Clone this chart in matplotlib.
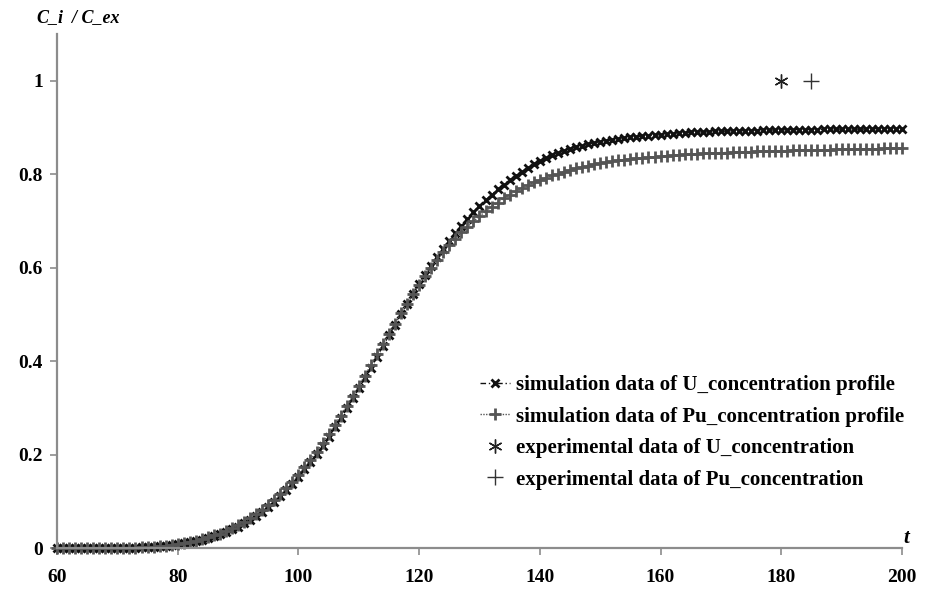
import numpy as np
import matplotlib.pyplot as plt

# time axis of the simulation (one point per unit)
t = np.arange(60, 201)

u_sim = [
    0.000, 0.000, 0.000, 0.000, 0.000, 0.000, 0.000, 0.000, 0.000, 0.001,
    0.001, 0.001, 0.001, 0.001, 0.002, 0.002, 0.003, 0.004, 0.005, 0.006,
    0.008, 0.010, 0.012, 0.015, 0.018, 0.021, 0.025, 0.029, 0.034, 0.040,
    0.046, 0.053, 0.061, 0.069, 0.078, 0.088, 0.099, 0.111, 0.124, 0.138,
    0.152, 0.168, 0.184, 0.201, 0.219, 0.238, 0.258, 0.278, 0.299, 0.320,
    0.342, 0.364, 0.386, 0.409, 0.432, 0.455, 0.477, 0.500, 0.522, 0.544,
    0.565, 0.585, 0.604, 0.622, 0.640, 0.657, 0.673, 0.689, 0.704, 0.718,
    0.731, 0.744, 0.756, 0.767, 0.777, 0.787, 0.796, 0.805, 0.813, 0.821,
    0.828, 0.834, 0.840, 0.845, 0.850, 0.854, 0.858, 0.861, 0.864, 0.867,
    0.869, 0.871, 0.873, 0.875, 0.877, 0.879, 0.880, 0.881, 0.882, 0.883,
    0.884, 0.885, 0.886, 0.887, 0.888, 0.889, 0.889, 0.890, 0.890, 0.891,
    0.891, 0.892, 0.892, 0.892, 0.893, 0.893, 0.893, 0.894, 0.894, 0.894,
    0.894, 0.895, 0.895, 0.895, 0.895, 0.895, 0.895, 0.896, 0.896, 0.896,
    0.896, 0.896, 0.896, 0.896, 0.896, 0.897, 0.897, 0.897, 0.897, 0.897,
    0.897,
]

pu_sim = [
    0.000, 0.000, 0.000, 0.000, 0.000, 0.000, 0.000, 0.000, 0.000, 0.001,
    0.001, 0.001, 0.001, 0.001, 0.002, 0.002, 0.003, 0.004, 0.005, 0.007,
    0.009, 0.011, 0.013, 0.016, 0.019, 0.023, 0.027, 0.031, 0.036, 0.042,
    0.049, 0.056, 0.064, 0.073, 0.082, 0.092, 0.103, 0.115, 0.128, 0.142,
    0.157, 0.173, 0.189, 0.206, 0.224, 0.243, 0.263, 0.283, 0.304, 0.325,
    0.347, 0.369, 0.391, 0.414, 0.436, 0.458, 0.480, 0.502, 0.523, 0.543,
    0.563, 0.582, 0.600, 0.617, 0.633, 0.648, 0.662, 0.675, 0.687, 0.699,
    0.710, 0.720, 0.730, 0.739, 0.748, 0.756, 0.763, 0.770, 0.776, 0.782,
    0.787, 0.792, 0.797, 0.801, 0.805, 0.809, 0.812, 0.815, 0.818, 0.821,
    0.823, 0.825, 0.827, 0.829, 0.831, 0.832, 0.834, 0.835, 0.836, 0.837,
    0.838, 0.839, 0.840, 0.841, 0.842, 0.843, 0.843, 0.844, 0.845, 0.845,
    0.846, 0.846, 0.847, 0.847, 0.848, 0.848, 0.849, 0.849, 0.849, 0.850,
    0.850, 0.850, 0.851, 0.851, 0.851, 0.852, 0.852, 0.852, 0.852, 0.853,
    0.853, 0.853, 0.853, 0.854, 0.854, 0.854, 0.854, 0.855, 0.855, 0.855,
    0.856,
]

# experimental points
u_exp_t, u_exp = [180], [1.0]
pu_exp_t, pu_exp = [185], [1.0]

xticks = [60, 80, 100, 120, 140, 160, 180, 200]
yticks = [0, 0.2, 0.4, 0.6, 0.8, 1.0]
ytick_labels = ['0', '0.2', '0.4', '0.6', '0.8', '1']

plt.rcParams['font.family'] = ['Liberation Serif', 'DejaVu Serif']
plt.rcParams['font.weight'] = 'bold'

fig = plt.figure(figsize=(9.27, 6.10), dpi=100)
ax = fig.add_axes([0.0615, 0.1016, 0.9115, 0.843])

ax.plot(t, u_sim, color='#111111', linestyle=(0, (4, 2, 1, 2, 1, 2)), linewidth=1,
        marker='x', markersize=6, markeredgewidth=2, clip_on=False,
        label='simulation data of U_concentration profile')
ax.plot(t, pu_sim, color='#555555', linestyle=(0, (1, 1)), linewidth=1,
        marker='+', markersize=8, markeredgewidth=2, clip_on=False,
        label='simulation data of Pu_concentration profile')
ax.plot(u_exp_t, u_exp, linestyle='none', color='#222222', marker=(6, 2, 0),
        markersize=10, markeredgewidth=1,
        label='experimental data of U_concentration')
ax.plot(pu_exp_t, pu_exp, linestyle='none', color='#333333', marker='+',
        markersize=11, markeredgewidth=1,
        label='experimental data of Pu_concentration')

ax.set_xlim(60, 200)
ax.set_ylim(0, 1.1)
ax.set_xticks(xticks)
ax.set_yticks(yticks)
ax.set_yticklabels(ytick_labels)

for side in ['top', 'right']:
    ax.spines[side].set_visible(False)
for side in ['left', 'bottom']:
    ax.spines[side].set_color('#8c8c8c')
    ax.spines[side].set_linewidth(1.6)
ax.tick_params(colors='#8c8c8c', length=5, width=1.2, labelsize=14,
               labelcolor='black', direction='out')
ax.tick_params(axis='x', pad=10)
ax.tick_params(axis='y', pad=5)

ax.text(-0.024, 1.031, 'C_i  / C_ex', transform=ax.transAxes, fontsize=13,
        fontweight='bold', style='italic', ha='left', va='center')
ax.text(1.002, 0.02, 't', transform=ax.transAxes, fontsize=15,
        fontweight='bold', style='italic', ha='left', va='center')

ax.legend(loc='center left', bbox_to_anchor=(0.491, 0.225), frameon=False,
          fontsize=15, handlelength=1.45, handletextpad=0.25, labelspacing=0.55,
          borderaxespad=0)

fig.savefig('out.png', dpi=100)
